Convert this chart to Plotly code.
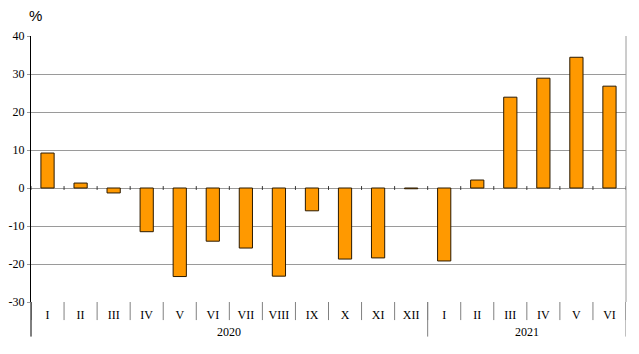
import plotly.graph_objects as go

months = ["I", "II", "III", "IV", "V", "VI", "VII", "VIII", "IX", "X", "XI", "XII",
          "I", "II", "III", "IV", "V", "VI"]
years = ["2020", "2021"]
year_counts = [12, 6]
values = [9.2, 1.3, -1.3, -11.5, -23.3, -14.0, -15.8, -23.2, -6.0, -18.7, -18.4, -0.2,
          -19.2, 2.1, 23.9, 28.9, 34.4, 26.8]
y_ticks = [-30, -20, -10, 0, 10, 20, 30, 40]
y_ticktext = [str(v) for v in y_ticks]  # plain hyphen minus as in reference

x = list(range(len(months)))
serif = "Liberation Serif, Times New Roman, serif"

fig = go.Figure()
fig.add_trace(go.Bar(
    x=x, y=values, width=0.4,
    marker=dict(color="#FF9900", line=dict(color="#2b1a00", width=1)),
    hoverinfo="y",
))

shapes = []
for k in range(len(months) + 1):
    shapes.append(dict(type="line", xref="x", yref="paper",
                       x0=k - 0.5, x1=k - 0.5, y0=0, y1=-0.068,
                       line=dict(color="#808080", width=1)))
b = -0.5
for c in year_counts:
    b += c
    shapes.append(dict(type="line", xref="x", yref="paper",
                       x0=b, x1=b, y0=0, y1=-0.13,
                       line=dict(color="#808080", width=1)))
for k in range(len(months) + 1):
    shapes.append(dict(type="line", xref="x", yref="y",
                       x0=k - 0.5, x1=k - 0.5, y0=-0.5, y1=0.5,
                       line=dict(color="#333333", width=1)))
shapes.append(dict(type="line", xref="paper", yref="paper", x0=1, x1=1, y0=0, y1=1,
                   line=dict(color="#9a9a9a", width=1)))
shapes.append(dict(type="line", xref="paper", yref="paper", x0=0, x1=0, y0=0, y1=-0.13,
                   line=dict(color="black", width=1)))

annotations = [dict(text="%", x=0.0076, y=1.077, xref="paper", yref="paper",
                    xanchor="center", yanchor="middle", showarrow=False,
                    font=dict(family="Arial, Liberation Sans, sans-serif", size=15, color="black"))]
start = 0
for yr, c in zip(years, year_counts):
    annotations.append(dict(text=yr, x=start + (c - 1) / 2, y=-0.113, xref="x", yref="paper",
                            xanchor="center", yanchor="middle", showarrow=False,
                            font=dict(family=serif, size=12, color="black")))
    start += c

fig.update_layout(
    width=639, height=354,
    margin=dict(l=31, r=13, t=36, b=52),
    paper_bgcolor="white", plot_bgcolor="white",
    showlegend=False,
    shapes=shapes,
    annotations=annotations,
    xaxis=dict(
        tickmode="array", tickvals=x, ticktext=months,
        range=[-0.5, len(months) - 0.5],
        showgrid=False, zeroline=False, ticks="",
        showline=False, automargin=False,
        ticklabelstandoff=4,
        tickfont=dict(family=serif, size=12, color="black"),
        fixedrange=True,
    ),
    yaxis=dict(
        range=[-30, 40], tickmode="array", tickvals=y_ticks, ticktext=y_ticktext,
        showgrid=True, gridcolor="#9a9a9a", gridwidth=1,
        zeroline=True, zerolinecolor="#9a9a9a", zerolinewidth=1,
        showline=True, linecolor="black", linewidth=1,
        ticks="outside", ticklen=3, tickcolor="#9a9a9a",
        automargin=False,
        tickfont=dict(family=serif, size=12, color="black"),
        fixedrange=True,
    ),
)

fig.write_html("out.html")
